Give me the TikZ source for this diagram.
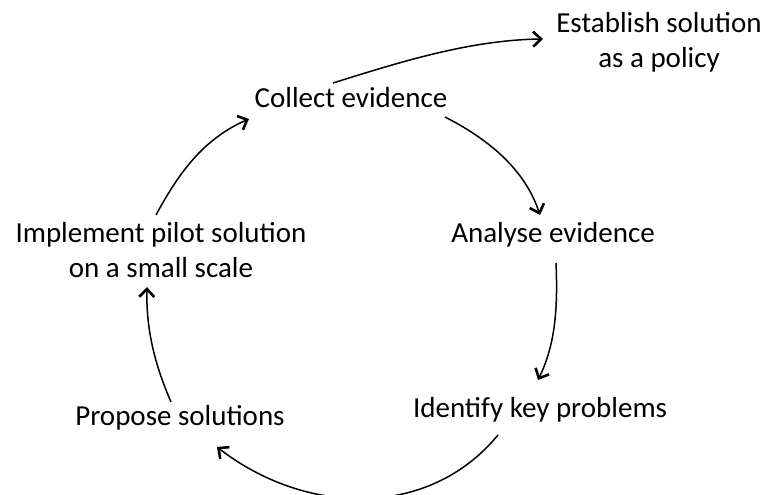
\documentclass[tikz,border=0pt]{standalone}
\usepackage{fontspec}
\setmainfont{Carlito}
\usetikzlibrary{arrows.meta,calc}
\begin{document}
\begin{tikzpicture}[x=1pt,y=-1pt,
  lbl/.style={anchor=base,inner sep=0pt,align=center,font=\fontsize{29}{34.5}\selectfont},
  flow/.style={line width=1.5pt,-{Straight Barb[length=8pt,width=15pt,line width=2.6pt]}}]
\useasboundingbox (0,0) rectangle (768,495);
\node[lbl] (establish) at (659,67) {Establish solution\\as a policy};
\node[lbl] (collect) at (351,107) {Collect evidence};
\node[lbl] (analyse) at (553,242) {Analyse evidence};
\node[lbl] (identify) at (540,417) {Identify key problems};
\node[lbl] (propose) at (180,425) {Propose solutions};
\node[lbl] (implement) at (161,277) {Implement pilot solution\\on a small scale};
\draw[flow] ($(collect.base)+(-18,-24)$) .. controls +(67,-21) and +(-73,1) .. ($(establish.base)+(-116,-28)$);
\draw[flow] ($(collect.base)+(94,10)$) .. controls +(45,23) and +(-15,-45) .. ($(analyse.base)+(-13,-27)$);
\draw[flow] ($(analyse.base)+(3,21)$) .. controls +(2,47) and +(17,-35) .. ($(identify.base)+(-2,-37)$);
\draw[flow] ($(identify.base)+(-42,18)$) .. controls +(-70,85) and +(88,68) .. ($(propose.base)+(37,22)$);
\draw[flow] ($(propose.base)+(-9,-23)$) .. controls +(-16,-37) and +(-1,43) .. ($(implement.base)+(-14,10)$);
\draw[flow] ($(implement.base)+(-5,-62)$) .. controls +(19,-35) and +(-49,21) .. ($(collect.base)+(-102,12)$);
\end{tikzpicture}
\end{document}
